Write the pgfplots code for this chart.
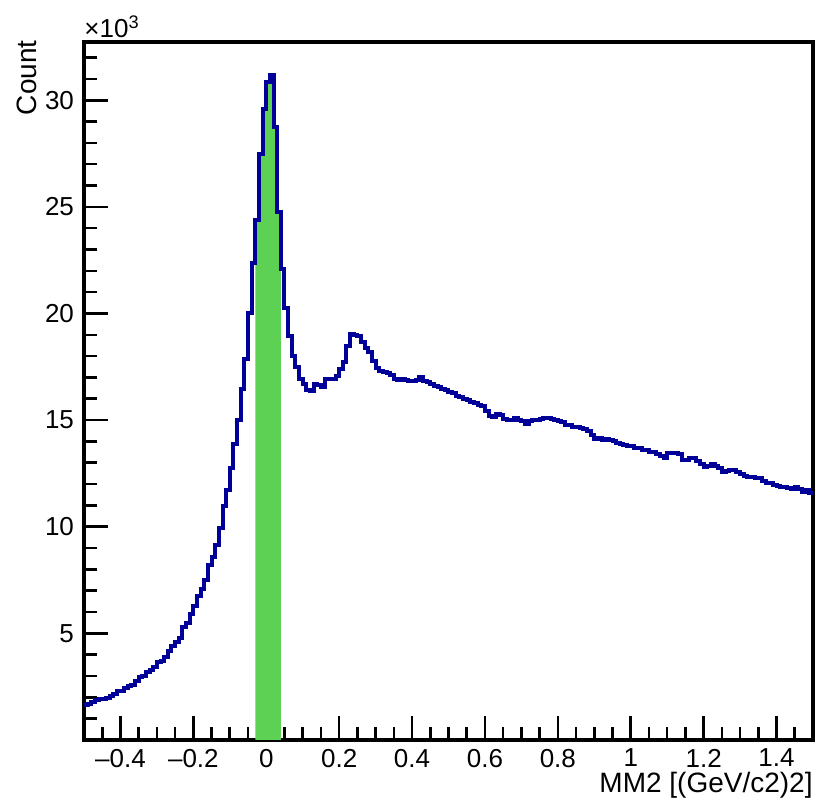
\documentclass[border=0pt]{standalone}
\usepackage{fontspec}
\setmainfont{Liberation Sans}
\usepackage{pgfplots}
\usepackage{pgfplotstable}
\pgfplotsset{compat=1.18}
\usetikzlibrary{calc}

\definecolor{histblue}{RGB}{0,0,153}
\definecolor{selgreen}{RGB}{92,209,84}

% MM2 histogram, 200 bins of 0.01, counts in units of 10^3 (x = lower bin edge)
\pgfplotstableread{
x y
-0.50 1.62
-0.49 1.68
-0.48 1.78
-0.47 1.88
-0.46 1.93
-0.45 1.93
-0.44 1.95
-0.43 2.05
-0.42 2.15
-0.41 2.29
-0.40 2.30
-0.39 2.42
-0.38 2.55
-0.37 2.60
-0.36 2.75
-0.35 2.95
-0.34 3.00
-0.33 3.20
-0.32 3.26
-0.31 3.40
-0.30 3.65
-0.29 3.70
-0.28 3.90
-0.27 4.19
-0.26 4.40
-0.25 4.58
-0.24 4.80
-0.23 5.28
-0.22 5.50
-0.21 5.90
-0.20 6.30
-0.19 6.75
-0.18 7.10
-0.17 7.52
-0.16 8.22
-0.15 8.60
-0.14 9.16
-0.13 9.94
-0.12 10.95
-0.11 11.72
-0.10 12.74
-0.09 13.90
-0.08 14.99
-0.07 16.46
-0.06 17.86
-0.05 20.04
-0.04 22.37
-0.03 24.39
-0.02 27.50
-0.01 29.60
0.00 30.84
0.01 31.16
0.02 28.74
0.03 24.78
0.04 22.07
0.05 20.27
0.06 18.95
0.07 18.02
0.08 17.48
0.09 16.93
0.10 16.70
0.11 16.40
0.12 16.35
0.13 16.70
0.14 16.65
0.15 16.55
0.16 16.94
0.17 16.95
0.18 16.93
0.19 17.05
0.20 17.40
0.21 17.72
0.22 18.49
0.23 19.03
0.24 19.00
0.25 18.96
0.26 18.65
0.27 18.40
0.28 18.18
0.29 17.78
0.30 17.45
0.31 17.32
0.32 17.25
0.33 17.22
0.34 17.10
0.35 16.95
0.36 16.90
0.37 16.92
0.38 16.88
0.39 16.85
0.40 16.85
0.41 16.90
0.42 17.02
0.43 16.85
0.44 16.78
0.45 16.70
0.46 16.60
0.47 16.55
0.48 16.45
0.49 16.40
0.50 16.32
0.51 16.28
0.52 16.15
0.53 16.10
0.54 15.98
0.55 15.93
0.56 15.85
0.57 15.80
0.58 15.70
0.59 15.65
0.60 15.45
0.61 15.20
0.62 15.15
0.63 15.30
0.64 15.23
0.65 15.05
0.66 15.00
0.67 14.99
0.68 15.10
0.69 15.00
0.70 14.95
0.71 14.84
0.72 14.95
0.73 15.00
0.74 14.99
0.75 15.05
0.76 15.09
0.77 15.09
0.78 15.05
0.79 14.99
0.80 14.95
0.81 14.90
0.82 14.78
0.83 14.76
0.84 14.70
0.85 14.68
0.86 14.62
0.87 14.60
0.88 14.50
0.89 14.30
0.90 14.13
0.91 14.15
0.92 14.08
0.93 14.10
0.94 14.05
0.95 14.00
0.96 13.95
0.97 13.90
0.98 13.82
0.99 13.80
1.00 13.78
1.01 13.70
1.02 13.70
1.03 13.62
1.04 13.60
1.05 13.51
1.06 13.50
1.07 13.40
1.08 13.30
1.09 13.20
1.10 13.47
1.11 13.47
1.12 13.44
1.13 13.40
1.14 13.12
1.15 13.15
1.16 13.20
1.17 13.20
1.18 13.10
1.19 12.95
1.20 12.81
1.21 12.85
1.22 12.92
1.23 12.85
1.24 12.75
1.25 12.58
1.26 12.60
1.27 12.65
1.28 12.65
1.29 12.55
1.30 12.45
1.31 12.40
1.32 12.34
1.33 12.35
1.34 12.27
1.35 12.30
1.36 12.15
1.37 12.04
1.38 12.05
1.39 11.98
1.40 11.92
1.41 11.88
1.42 11.85
1.43 11.80
1.44 11.78
1.45 11.85
1.46 11.75
1.47 11.65
1.48 11.72
1.49 11.60
1.50 11.60
}\mmtwo

% selected window, filled green
\pgfplotstableread{
x y
-0.03 24.39
-0.02 27.50
-0.01 29.60
0.00 30.84
0.01 31.16
0.02 28.74
0.03 24.78
0.04 24.78
}\mmsel

\begin{document}
\begin{tikzpicture}
\begin{axis}[
    name=ax, at={(0,0)}, anchor=south west,
    scale only axis, width=364.5pt, height=349pt,
    xmin=-0.5, xmax=1.5, ymin=0, ymax=32.73,
    xtick={-0.4,-0.2,0,0.2,0.4,0.6,0.8,1,1.2,1.4},
    xticklabels={–0.4,–0.2,0,0.2,0.4,0.6,0.8,1,1.2,1.4},
    minor xtick={-0.45,-0.35,-0.3,-0.25,-0.15,-0.1,-0.05,0.05,0.1,0.15,0.25,0.3,0.35,0.45,0.5,0.55,0.65,0.7,0.75,0.85,0.9,0.95,1.05,1.1,1.15,1.25,1.3,1.35,1.45},
    ytick={5,10,15,20,25,30},
    minor ytick={1,2,3,4,6,7,8,9,11,12,13,14,16,17,18,19,21,22,23,24,26,27,28,29,31,32},
    tick align=inside, tick pos=left,
    major tick length=12pt, minor tick length=6.5pt,
    every tick/.style={black, line width=1.3pt},
    axis line style={line width=1.6pt},
    ticklabel style={font=\fontsize{13}{15}\selectfont},
    xticklabel style={yshift=-1pt},
    yticklabel style={xshift=-1.5pt},
    /pgf/number format/assume math mode=true,
]
\addplot[const plot, draw=none, fill=selgreen] table {\mmsel} \closedcycle;
\addplot[const plot, histblue, line width=2pt] table {\mmtwo};
\end{axis}
\node[anchor=south west, inner sep=0pt, font=\fontsize{13}{15}\selectfont] at ($(ax.north west)+(0pt,2pt)$) {×10\textsuperscript{3}};
\node[rotate=90, anchor=east, inner sep=0pt, font=\fontsize{14}{16}\selectfont] at ($(ax.north west)+(-28.5pt,1pt)$) {Count};
\node[anchor=north east, inner sep=0pt, font=\fontsize{14}{16}\selectfont] at ($(ax.south east)+(0pt,-16pt)$) {MM2 [(GeV/c2)2]};
\pgfresetboundingbox
\path[use as bounding box] (-42pt,-32.5pt) rectangle (366pt,370pt);
\end{tikzpicture}
\end{document}
